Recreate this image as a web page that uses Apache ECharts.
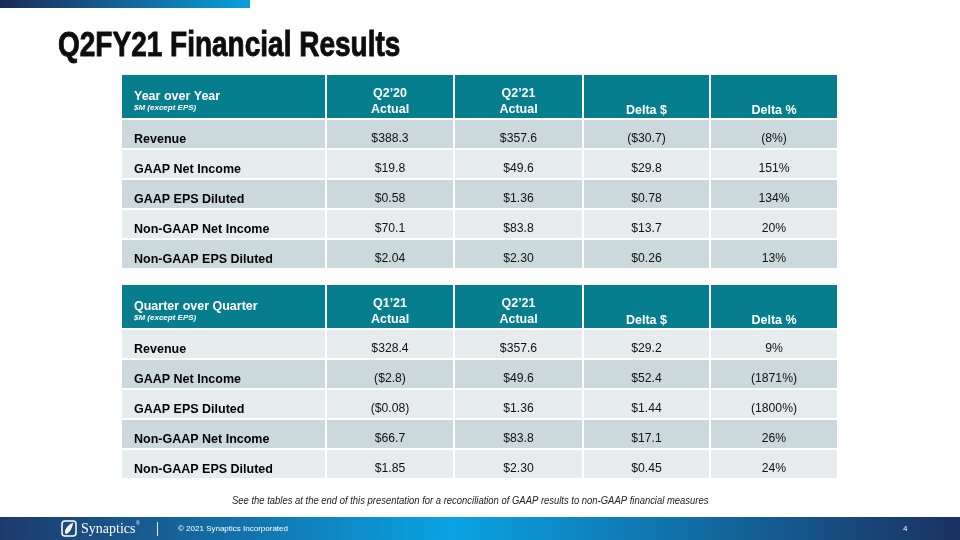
<!DOCTYPE html>
<html>
<head>
<meta charset="utf-8">
<script src="https://cdn.jsdelivr.net/npm/echarts@6/dist/echarts.min.js"></script>
<style>
  html, body { margin: 0; padding: 0; background: #fff; }
  #main { width: 960px; height: 540px; }
</style>
</head>
<body>
<div id="main"></div>
<script>
// 表格数据
var metrics = ['Revenue', 'GAAP Net Income', 'GAAP EPS Diluted', 'Non-GAAP Net Income', 'Non-GAAP EPS Diluted'];

var yoyHeaders = ['Q2\u201920\nActual', 'Q2\u201921\nActual', 'Delta $', 'Delta %'];
var yoyPrior = [388.3, 19.8, 0.58, 70.1, 2.04];
var yoyCurrent = [357.6, 49.6, 1.36, 83.8, 2.30];
var yoyDelta = [-30.7, 29.8, 0.78, 13.7, 0.26];
var yoyPct = [-8, 151, 134, 20, 13];

var qoqHeaders = ['Q1\u201921\nActual', 'Q2\u201921\nActual', 'Delta $', 'Delta %'];
var qoqPrior = [328.4, -2.8, -0.08, 66.7, 1.85];
var qoqCurrent = [357.6, 49.6, 1.36, 83.8, 2.30];
var qoqDelta = [29.2, 52.4, 1.44, 17.1, 0.45];
var qoqPct = [9, -1871, -1800, 26, 24];

// 布局 (单位 = 坐标轴单位)
var colW = [203, 126, 127, 125, 126];
var headH = 43, rowH = 28, gap = 2;
var tableW = 715, tableH = 193;

var FONT = '"Liberation Sans", Arial, sans-serif';
var TEAL = '#077e8e', DARK = '#cbd8dc', LIGHT = '#e6ecee';

function money(v, dec) {
    var s = '$' + Math.abs(v).toFixed(dec);
    return v < 0 ? '(' + s + ')' : s;
}
function pct(v) {
    return v < 0 ? '(' + Math.abs(v) + '%)' : v + '%';
}

// 生成单元格
function buildCells(title, headers, prior, current, delta, percent) {
    var cells = [];
    cells.push({ value: [0, 0], title: title });
    for (var c = 0; c < headers.length; c++) {
        cells.push({ value: [c + 1, 0], text: headers[c] });
    }
    for (var r = 0; r < metrics.length; r++) {
        var dec = metrics[r].indexOf('EPS') >= 0 ? 2 : 1;
        var row = [metrics[r], money(prior[r], dec), money(current[r], dec), money(delta[r], dec), pct(percent[r])];
        for (var k = 0; k < row.length; k++) {
            cells.push({ value: [k, r + 1], text: row[k] });
        }
    }
    return cells;
}

function txt(x, y, text, font, fill, align) {
    return { type: 'text', style: { x: x, y: y, text: text, fill: fill, font: font,
        textAlign: align, textVerticalAlign: 'middle' } };
}

function makeRender(cells, darkFirst) {
    return function (params, api) {
        var c = api.value(0), r = api.value(1);
        var cell = cells[params.dataIndex];
        var x0 = 0;
        for (var i = 0; i < c; i++) x0 += colW[i] + gap;
        var x1 = x0 + colW[c];
        var y0 = r === 0 ? 0 : headH + gap + (r - 1) * (rowH + gap);
        var y1 = y0 + (r === 0 ? headH : rowH);
        var p0 = api.coord([x0, y0]);
        var p1 = api.coord([x1, y1]);
        var left = Math.min(p0[0], p1[0]), top = Math.min(p0[1], p1[1]);
        var w = Math.abs(p1[0] - p0[0]), h = Math.abs(p1[1] - p0[1]);
        var fill;
        if (r === 0) fill = TEAL;
        else fill = ((r % 2 === 1) === darkFirst) ? DARK : LIGHT;

        var children = [{ type: 'rect', shape: { x: left, y: top, width: w, height: h }, style: { fill: fill } }];
        var bold = 'bold 12.5px ' + FONT;
        if (r === 0) {
            if (c === 0) {
                children.push(txt(left + 12, top + 21.5, cell.title, bold, '#fff', 'left'));
                children.push(txt(left + 12, top + 32.5, '$M (except EPS)', 'italic bold 8px ' + FONT, '#fff', 'left'));
            } else {
                var lines = cell.text.split('\n');
                if (lines.length === 2) {
                    children.push(txt(left + w / 2, top + 18.5, lines[0], bold, '#fff', 'center'));
                    children.push(txt(left + w / 2, top + 35, lines[1], bold, '#fff', 'center'));
                } else {
                    children.push(txt(left + w / 2, top + 36, lines[0], bold, '#fff', 'center'));
                }
            }
        } else if (c === 0) {
            children.push(txt(left + 12, top + 20, cell.text, bold, '#000', 'left'));
        } else {
            children.push(txt(left + w / 2, top + 19, cell.text, '12.2px ' + FONT, '#111', 'center'));
        }
        return { type: 'group', children: children };
    };
}

function initChart() {
    var myChart = echarts.init(document.getElementById('main'));

    var yoyCells = buildCells('Year over Year', yoyHeaders, yoyPrior, yoyCurrent, yoyDelta, yoyPct);
    var qoqCells = buildCells('Quarter over Quarter', qoqHeaders, qoqPrior, qoqCurrent, qoqDelta, qoqPct);

    var axisX = function (idx) {
        return { type: 'value', gridIndex: idx, min: 0, max: tableW, show: false };
    };
    var axisY = function (idx) {
        return { type: 'value', gridIndex: idx, min: 0, max: tableH, inverse: true, show: false };
    };

    var option = {
        backgroundColor: '#fff',
        animation: false,
        grid: [
            { left: 122, top: 75, width: tableW, height: tableH },
            { left: 122, top: 285, width: tableW, height: tableH }
        ],
        xAxis: [axisX(0), axisX(1)],
        yAxis: [axisY(0), axisY(1)],
        series: [
            { type: 'custom', xAxisIndex: 0, yAxisIndex: 0, data: yoyCells, renderItem: makeRender(yoyCells, true), silent: true },
            { type: 'custom', xAxisIndex: 1, yAxisIndex: 1, data: qoqCells, renderItem: makeRender(qoqCells, false), silent: true }
        ],
        graphic: [
            // 顶部色条
            { type: 'rect', left: 0, top: 0, shape: { width: 250, height: 8 },
              style: { fill: new echarts.graphic.LinearGradient(0, 0, 1, 0, [
                  { offset: 0, color: '#1b2a56' }, { offset: 1, color: '#0a9fdc' }]) } },
            // 标题 (窄体)
            { type: 'text', x: 58, y: 46, scaleX: 0.8,
              style: { text: 'Q2FY21 Financial Results', fill: '#0d0d0d', stroke: '#0d0d0d', lineWidth: 0.9,
                       textVerticalAlign: 'middle', font: 'bold 35px ' + FONT } },
            // 脚注
            { type: 'text', x: 232, y: 501, scaleX: 0.9,
              style: { text: 'See the tables at the end of this presentation for a reconciliation of GAAP results to non-GAAP financial measures',
                       fill: '#222', textVerticalAlign: 'middle', font: 'italic 10.5px ' + FONT } },
            // 底部色条
            { type: 'rect', left: 0, top: 517, shape: { width: 960, height: 23 },
              style: { fill: new echarts.graphic.LinearGradient(0, 0, 1, 0, [
                  { offset: 0, color: '#1e3a6b' }, { offset: 0.47, color: '#09a3e3' }, { offset: 1, color: '#1b3160' }]) } },
            // logo
            { type: 'rect', x: 62, y: 521, shape: { width: 14, height: 15, r: 3 },
              style: { fill: 'none', stroke: '#fff', lineWidth: 1.5 } },
            { type: 'polygon', x: 62, y: 521,
              shape: { points: [[11, 2], [6, 5], [3, 10], [4, 13], [8, 10], [10, 6]], smooth: 0.3 },
              style: { fill: '#fff' } },
            { type: 'text', x: 81, y: 529,
              style: { text: 'Synaptics', fill: '#fff', textVerticalAlign: 'middle',
                       font: '14px "Liberation Serif", "Times New Roman", serif' } },
            { type: 'text', x: 136, y: 524,
              style: { text: '\u00ae', fill: '#fff', textVerticalAlign: 'middle', font: '5px ' + FONT } },
            { type: 'rect', x: 157, y: 522, shape: { width: 1, height: 14 }, style: { fill: '#dfe8f0' } },
            { type: 'text', x: 178, y: 529,
              style: { text: '\u00a9 2021 Synaptics Incorporated', fill: '#fff', textVerticalAlign: 'middle', font: '8px ' + FONT } },
            { type: 'text', x: 903, y: 529,
              style: { text: '4', fill: '#fff', textVerticalAlign: 'middle', font: '8px ' + FONT } }
        ]
    };

    myChart.setOption(option);
    resize(myChart);
}

// 响应式
function resize(echart) {
    window.onresize = function () {
        echart.resize();
    };
}

initChart();
</script>
</body>
</html>
